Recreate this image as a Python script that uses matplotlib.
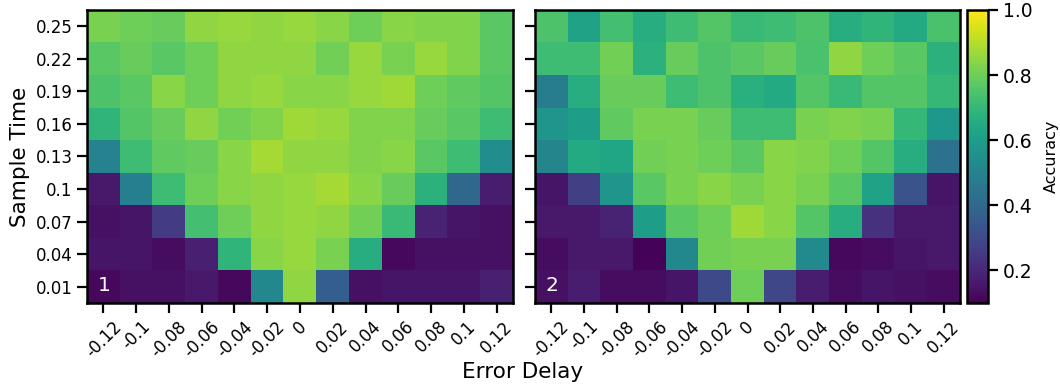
import numpy as np
import matplotlib
matplotlib.use('Agg')
import matplotlib.pyplot as plt

# axis categories
sample_times = ['0.25', '0.22', '0.19', '0.16', '0.13', '0.1', '0.07', '0.04', '0.01']
error_delays = ['-0.12', '-0.1', '-0.08', '-0.06', '-0.04', '-0.02', '0',
                '0.02', '0.04', '0.06', '0.08', '0.1', '0.12']

# accuracy, panel 1 (rows = sample time, top to bottom)
acc_1 = [
    [0.82, 0.80, 0.79, 0.85, 0.86, 0.85, 0.86, 0.84, 0.80, 0.84, 0.83, 0.83, 0.77],
    [0.77, 0.79, 0.77, 0.80, 0.85, 0.85, 0.85, 0.81, 0.86, 0.82, 0.86, 0.83, 0.77],
    [0.75, 0.77, 0.84, 0.80, 0.85, 0.86, 0.84, 0.84, 0.86, 0.87, 0.80, 0.78, 0.76],
    [0.69, 0.76, 0.79, 0.85, 0.81, 0.83, 0.87, 0.86, 0.83, 0.83, 0.79, 0.77, 0.72],
    [0.50, 0.72, 0.78, 0.79, 0.84, 0.88, 0.85, 0.85, 0.83, 0.84, 0.77, 0.72, 0.54],
    [0.16, 0.49, 0.72, 0.80, 0.84, 0.85, 0.86, 0.88, 0.84, 0.79, 0.68, 0.40, 0.17],
    [0.14, 0.15, 0.26, 0.73, 0.80, 0.85, 0.86, 0.85, 0.81, 0.71, 0.19, 0.15, 0.14],
    [0.15, 0.15, 0.13, 0.18, 0.69, 0.84, 0.86, 0.82, 0.66, 0.12, 0.14, 0.14, 0.14],
    [0.12, 0.14, 0.14, 0.16, 0.12, 0.52, 0.85, 0.37, 0.14, 0.15, 0.15, 0.15, 0.18],
]

# accuracy, panel 2
acc_2 = [
    [0.75, 0.62, 0.73, 0.66, 0.72, 0.76, 0.71, 0.72, 0.75, 0.66, 0.69, 0.65, 0.74],
    [0.72, 0.72, 0.81, 0.68, 0.79, 0.75, 0.77, 0.79, 0.74, 0.85, 0.80, 0.77, 0.68],
    [0.48, 0.66, 0.79, 0.79, 0.72, 0.75, 0.67, 0.65, 0.76, 0.71, 0.76, 0.76, 0.70],
    [0.57, 0.60, 0.78, 0.82, 0.82, 0.79, 0.72, 0.72, 0.82, 0.83, 0.82, 0.70, 0.58],
    [0.51, 0.65, 0.63, 0.81, 0.82, 0.80, 0.77, 0.84, 0.83, 0.80, 0.76, 0.66, 0.44],
    [0.15, 0.27, 0.57, 0.77, 0.82, 0.84, 0.82, 0.84, 0.82, 0.77, 0.62, 0.33, 0.15],
    [0.16, 0.16, 0.19, 0.60, 0.77, 0.80, 0.87, 0.84, 0.76, 0.66, 0.23, 0.16, 0.16],
    [0.13, 0.16, 0.16, 0.11, 0.52, 0.81, 0.82, 0.82, 0.53, 0.12, 0.13, 0.15, 0.16],
    [0.14, 0.17, 0.13, 0.13, 0.15, 0.30, 0.80, 0.29, 0.17, 0.13, 0.15, 0.14, 0.13],
]

panel_labels = ['1', '2']

W, H = 1060, 387
fig = plt.figure(figsize=(W / 100, H / 100), dpi=100)


def px_rect(x0, x1, y0, y1):
    return [x0 / W, (H - y1) / H, (x1 - x0) / W, (y1 - y0) / H]


ax1 = fig.add_axes(px_rect(87, 513, 10, 303))
ax2 = fig.add_axes(px_rect(535, 960, 10, 303))
cax = fig.add_axes(px_rect(967, 988, 10, 303))

for ax, data, lab in zip([ax1, ax2], [acc_1, acc_2], panel_labels):
    im = ax.imshow(np.array(data), aspect='auto', cmap='viridis', vmin=0.1, vmax=1.0,
                   interpolation='nearest')
    ax.set_xticks(range(len(error_delays)))
    ax.set_xticklabels(error_delays, rotation=45, ha='center', fontsize=12)
    ax.set_yticks(range(len(sample_times)))
    ax.tick_params(length=7, width=1.6)
    for s in ax.spines.values():
        s.set_linewidth(1.8)
    ax.text(0.04, 0.06, lab, transform=ax.transAxes, color='white', fontsize=14.5,
            ha='center', va='center')

ax1.set_yticklabels(sample_times, fontsize=12)
ax2.set_yticklabels([])
ax1.set_ylabel('Sample Time', fontsize=15.5)
fig.text(523 / W, 1 - 372 / H, 'Error Delay', fontsize=15.5, ha='center', va='center')

cb = fig.colorbar(im, cax=cax, ticks=[0.2, 0.4, 0.6, 0.8, 1.0])
cb.ax.tick_params(labelsize=13.5, length=7, width=1.6)
cb.outline.set_linewidth(1.8)
cb.set_label('Accuracy', fontsize=11.5, labelpad=8)

plt.savefig('out.png', dpi=100)
